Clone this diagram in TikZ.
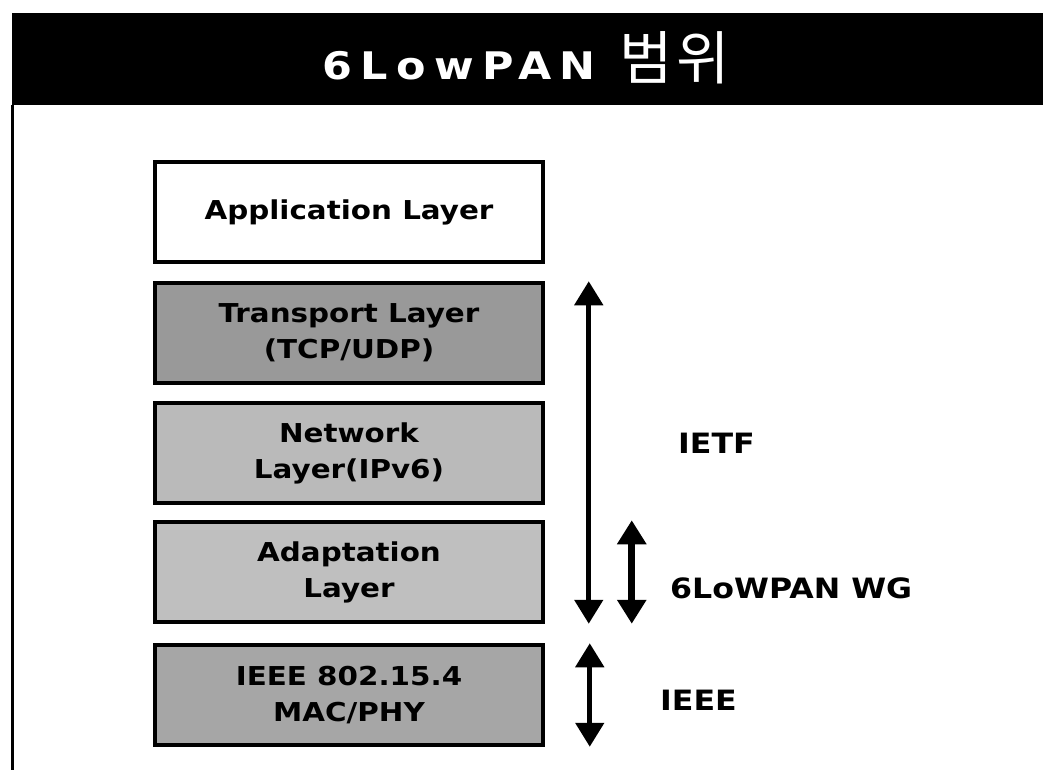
\documentclass[tikz,border=0pt]{standalone}
\usepackage{fontspec}
\setmainfont{DejaVu Sans}
\newfontfamily\widefont{DejaVu Sans}[FakeStretch=1.13]
\newfontfamily\krfont{Noto Sans CJK KR}
\usetikzlibrary{arrows.meta}
\tikzset{
  layer/.style={draw,line width=3.5pt,minimum width=388pt,minimum height=100pt,inner sep=0pt,align=center,font=\widefont\bfseries\fontsize{26}{36}\selectfont},
  span/.style={line width=5pt,{Triangle[length=24pt,width=28pt]}-{Triangle[length=24pt,width=28pt]}},
  tag/.style={right,inner sep=0pt,font=\widefont\bfseries\fontsize{28}{30}\selectfont}
}

\begin{document}
\begin{tikzpicture}[x=1pt,y=-1pt]
\useasboundingbox (0,0) rectangle (1043,770);
\fill (12,13) rectangle (1043,105);
\node[text=white,font=\widefont\bfseries\fontsize{38}{40}\selectfont] (title) at (526,58) {\addfontfeature{LetterSpace=22}6LowPAN {\krfont\mdseries\fontsize{58}{60}\selectfont\addfontfeature{LetterSpace=6}범위}};
\draw[line width=3pt] (12,105)--(12,770);

\foreach \y/\name/\shade/\ltext in {212/app/white/{Application Layer},
  333/trans/black!40/{Transport Layer\\(TCP/UDP)},
  453/net/black!27/{Network\\Layer(IPv6)},
  572/adapt/black!25/{Adaptation\\Layer},
  695/phy/black!35/{IEEE 802.15.4\\MAC/PHY}}
{
   \node[layer,fill=\shade] (\name) at (349,\y) {\ltext};
}

\draw[span] ([xshift=44pt]trans.north east) -- ([xshift=44pt]adapt.south east);
\draw[span,line width=7pt] ([xshift=87pt]adapt.north east) -- ([xshift=87pt]adapt.south east);
\draw[span] ([xshift=45pt]phy.north east) -- ([xshift=45pt]phy.south east);

\node[tag] (ietf) at (678,443) {IETF};
\node[tag] (wg) at (670,588) {6LoWPAN WG};
\node[tag] (ieee) at (660,700) {IEEE};
\end{tikzpicture}
\end{document}
